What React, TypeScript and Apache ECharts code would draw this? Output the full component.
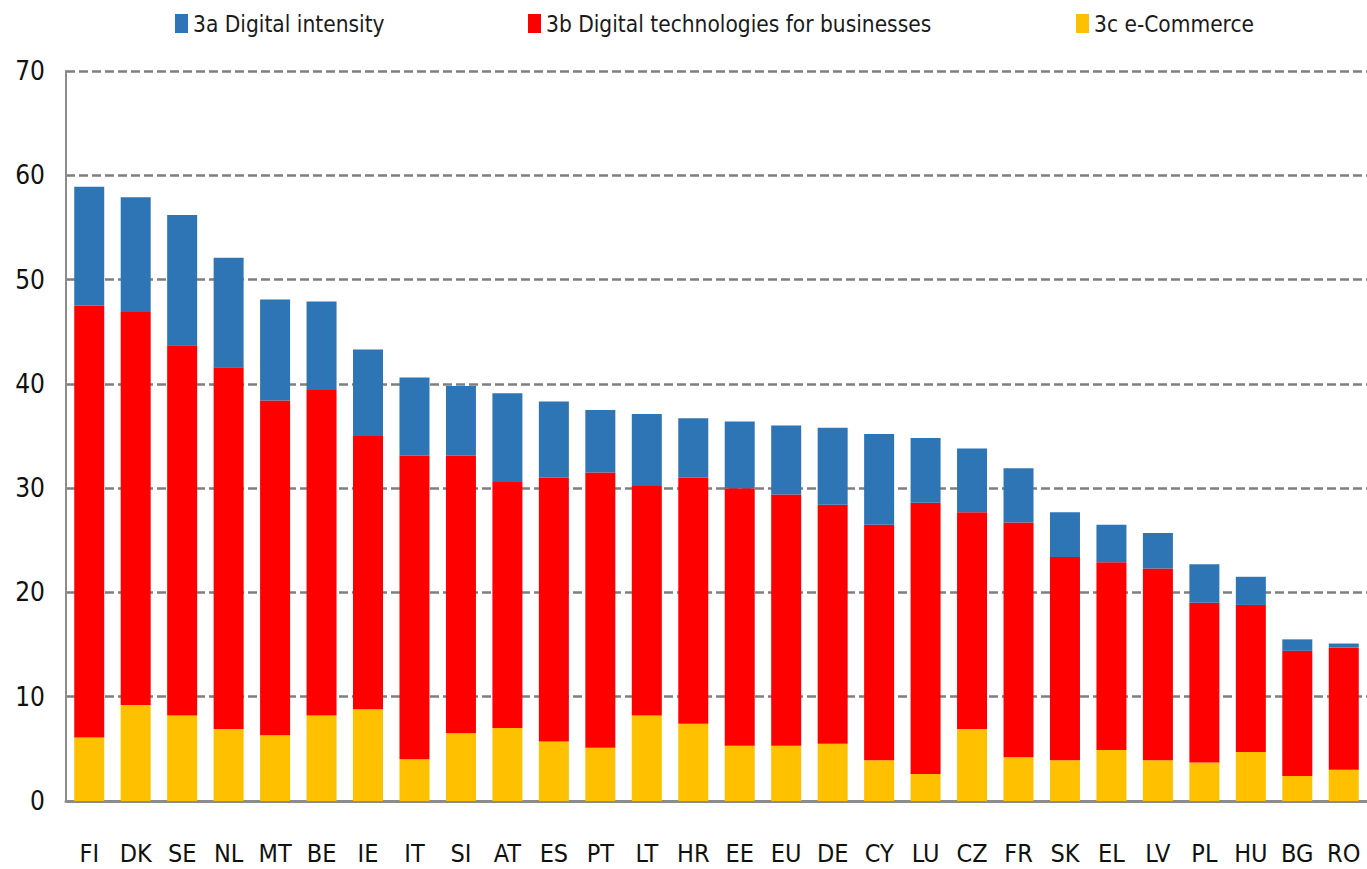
import React, { useEffect, useRef } from "react";
import * as echarts from "echarts";

const categories = ["FI","DK","SE","NL","MT","BE","IE","IT","SI","AT","ES","PT","LT","HR","EE","EU","DE","CY","LU","CZ","FR","SK","EL","LV","PL","HU","BG","RO"];
const digitalIntensity = [11.4,11.0,12.5,10.5,9.7,8.5,8.3,7.5,6.7,8.5,7.3,6.0,6.9,5.7,6.4,6.6,7.4,8.7,6.2,6.1,5.2,4.3,3.6,3.4,3.7,2.7,1.1,0.4];
const digitalTech = [41.4,37.7,35.5,34.7,32.1,31.2,26.2,29.1,26.6,23.6,25.3,26.4,22.0,23.6,24.7,24.1,22.9,22.6,26.0,20.8,22.5,19.5,18.0,18.4,15.3,14.1,12.0,11.7];
const eCommerce = [6.1,9.2,8.2,6.9,6.3,8.2,8.8,4.0,6.5,7.0,5.7,5.1,8.2,7.4,5.3,5.3,5.5,3.9,2.6,6.9,4.2,3.9,4.9,3.9,3.7,4.7,2.4,3.0];
const yTicks = { min: 0, max: 70, interval: 10 };

const FONT = "'DejaVu Sans Condensed', 'Liberation Sans Narrow', 'DejaVu Sans', sans-serif";

export default function App() {
  const ref = useRef<HTMLDivElement>(null);
  useEffect(() => {
    document.body.style.margin = "0";
    const chart = echarts.init(ref.current!, null, { renderer: "svg" });
    const legendText = { fontSize: 22.5, color: "#1a1a1a", fontFamily: FONT };
    const legendBase = { top: 7, itemWidth: 13, itemHeight: 19, icon: "rect", textStyle: legendText };
    chart.setOption({
      animation: false,
      textStyle: { fontFamily: FONT },
      legend: [
        { ...legendBase, data: ["3a Digital intensity"], left: 170 },
        { ...legendBase, data: ["3b Digital technologies for businesses"], left: 523 },
        { ...legendBase, data: ["3c e-Commerce"], left: 1071 },
      ],
      grid: { left: 66, right: -12, top: 71, bottom: 68, containLabel: false },
      xAxis: {
        type: "category",
        data: categories,
        axisTick: { show: false },
        axisLine: { lineStyle: { color: "#8c8c8c", width: 3 } },
        axisLabel: { interval: 0, fontSize: 25, color: "#111", margin: 40, fontFamily: FONT },
      },
      yAxis: {
        type: "value",
        min: yTicks.min,
        max: yTicks.max,
        interval: yTicks.interval,
        axisLine: { show: true, lineStyle: { color: "#8c8c8c", width: 2 } },
        axisTick: { show: false },
        axisLabel: { fontSize: 26, color: "#111", margin: 21, fontFamily: FONT },
        splitLine: { lineStyle: { color: "#7f7f7f", width: 2.5, type: [9, 4] } },
      },
      series: [
        { name: "3c e-Commerce", type: "bar", stack: "s", data: eCommerce, barWidth: 30, itemStyle: { color: "#FFC000" } },
        { name: "3b Digital technologies for businesses", type: "bar", stack: "s", data: digitalTech, barWidth: 30, itemStyle: { color: "#FF0000" } },
        { name: "3a Digital intensity", type: "bar", stack: "s", data: digitalIntensity, barWidth: 30, itemStyle: { color: "#2E75B6" } },
      ],
    });
    return () => chart.dispose();
  }, []);
  return <div ref={ref} style={{ width: 1367, height: 869 }} />;
}
